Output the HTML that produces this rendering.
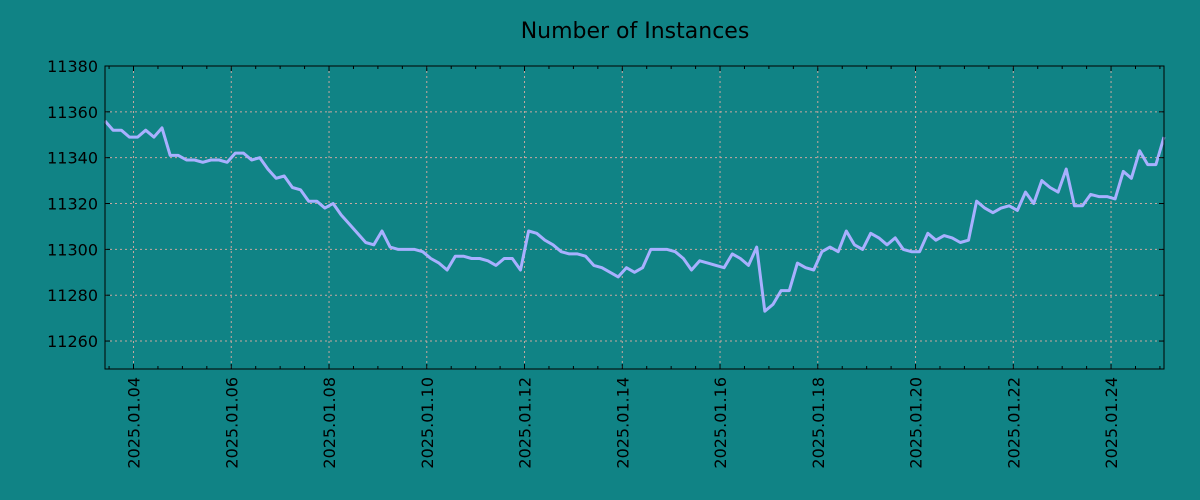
<!DOCTYPE html>
<html><head><meta charset="utf-8"><style>
body{margin:0;background:#108385;}
svg{display:block;font-family:"DejaVu Sans","Liberation Sans",sans-serif;}
</style></head><body>
<svg id="chart" width="1200" height="500" viewBox="0 0 1200 500">
<rect x="0" y="0" width="1200" height="500" fill="#108385"/>
<text x="635" y="38" font-size="22" text-anchor="middle" fill="#000">Number of Instances</text>
<g id="grid"></g>
<g id="series"></g>
<g id="axes"></g>
</svg>
<script>
const startTime = Date.UTC(2025,0,3,10,0);
const stepHours = 4;
const values = [11356,11352,11352,11349,11349,11352,11349,11353,11341,11341,11339,11339,11338,11339,11339,11338,11342,11342,11339,11340,11335,11331,11332,11327,11326,11321,11321,11318,11320,11315,11311,11307,11303,11302,11308,11301,11300,11300,11300,11299,11296,11294,11291,11297,11297,11296,11296,11295,11293,11296,11296,11291,11308,11307,11304,11302,11299,11298,11298,11297,11293,11292,11290,11288,11292,11290,11292,11300,11300,11300,11299,11296,11291,11295,11294,11293,11292,11298,11296,11293,11301,11273,11276,11282,11282,11294,11292,11291,11299,11301,11299,11308,11302,11300,11307,11305,11302,11305,11300,11299,11299,11307,11304,11306,11305,11303,11304,11321,11318,11316,11318,11319,11317,11325,11320,11330,11327,11325,11335,11319,11319,11324,11323,11323,11322,11334,11331,11343,11337,11337,11349];
const yTicks = [11260,11280,11300,11320,11340,11360,11380];
const xTickDays = [4,6,8,10,12,14,16,18,20,22,24];
const yMin = 11247.8, yMax = 11380;

const L=105,R=1164,T=66,B=369;
const NS="http://www.w3.org/2000/svg";
const times = values.map((v,i)=>startTime+i*stepHours*3600e3);
const tMin=times[0], tMax=times[times.length-1];
const xs=t=>L+(t-tMin)/(tMax-tMin)*(R-L);
const ys=v=>B-(v-yMin)/(yMax-yMin)*(B-T);
function mk(tag,attrs,parent){const e=document.createElementNS(NS,tag);for(const k in attrs)e.setAttribute(k,attrs[k]);parent.appendChild(e);return e;}
const grid=document.getElementById('grid'),axes=document.getElementById('axes'),series=document.getElementById('series');

yTicks.forEach(v=>{
  const y=ys(v);
  const g=mk('line',{x1:L,x2:R,y1:y,y2:y,stroke:'#c8a8a0','stroke-width':1,'stroke-dasharray':'2,3'},grid);
  
  
  const t=mk('line',{x1:L,x2:L+5,y1:y,y2:y,stroke:'#000','stroke-width':1},axes);
  
  
  const t2=mk('line',{x1:R-5,x2:R,y1:y,y2:y,stroke:'#000','stroke-width':1},axes);
  
  
  const lb=mk('text',{x:L-7,y:y+6,'font-size':16,'text-anchor':'end',fill:'#000'},axes);
  lb.textContent=String(v);
  
  
});
for(let d=3.5; d<=25.1; d+=0.5){
  const x=xs(Date.UTC(2025,0,Math.floor(d),(d%1)*24));
  if(x<L||x>R)continue;
  const major=xTickDays.includes(d);
  const len=major?5:3;
  const m=mk('line',{x1:x,x2:x,y1:B,y2:B-len,stroke:'#000','stroke-width':1},axes);
  
  
  const m2=mk('line',{x1:x,x2:x,y1:T,y2:T+len,stroke:'#000','stroke-width':1},axes);
  
  
}
xTickDays.forEach(d=>{
  const x=xs(Date.UTC(2025,0,d));
  const g=mk('line',{x1:x,x2:x,y1:T,y2:B,stroke:'#c8a8a0','stroke-width':1,'stroke-dasharray':'2,3'},grid);
  
  
  const lb=mk('text',{x:0,y:0,'font-size':16,'text-anchor':'end',fill:'#000',transform:`translate(${x+6},377) rotate(-90)`},axes);
  lb.textContent='2025.01.'+String(d).padStart(2,'0');
  
  
});
const fr=mk('rect',{x:L,y:T,width:R-L,height:B-T,fill:'none',stroke:'#000','stroke-width':1},axes);


const pts=values.map((v,i)=>xs(times[i]).toFixed(1)+','+ys(v).toFixed(1)).join(' ');
const pl=mk('polyline',{points:pts,fill:'none',stroke:'#a8b0ff','stroke-width':3,'stroke-linejoin':'round'},series);


</script>
</body></html>
